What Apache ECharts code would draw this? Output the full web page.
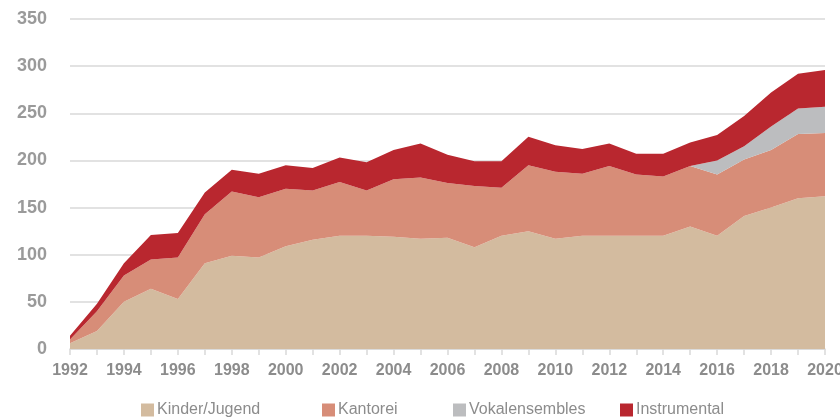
<!DOCTYPE html>
<html>
<head>
    <meta charset="utf-8">
    <script src="https://cdn.jsdelivr.net/npm/echarts@6/dist/echarts.min.js"></script>
    <style>
        html, body { margin: 0; padding: 0; background: #fff; }
        #chart { width: 840px; height: 419px; }
    </style>
</head>
<body>
<div id="chart"></div>
<script>
    var years = [];
    for (var y = 1992; y <= 2020; y++) { years.push(String(y)); }

    var kinderJugend = [6, 19, 50, 64, 53, 91, 99, 97, 109, 116, 120, 120, 119, 117, 118, 108, 120, 125, 117, 120, 120, 120, 120, 130, 120, 141, 150, 160, 162];
    var kantorei = [4, 21, 28, 31, 44, 52, 68, 64, 61, 52, 57, 48, 61, 65, 58, 65, 51, 70, 71, 66, 74, 65, 63, 64, 65, 60, 61, 68, 67];
    var vokalensembles = [0, 0, 0, 0, 0, 0, 0, 0, 0, 0, 0, 0, 0, 0, 0, 0, 0, 0, 0, 0, 0, 0, 0, 0, 15, 14, 25, 27, 28];
    var instrumental = [4, 8, 13, 26, 26, 23, 23, 25, 25, 24, 26, 30, 31, 36, 30, 26, 28, 30, 28, 26, 24, 22, 24, 25, 27, 32, 36, 37, 39];

    var names = ['Kinder/Jugend', 'Kantorei', 'Vokalensembles', 'Instrumental'];
    var colors = ['#d3bb9f', '#d78d78', '#bcbdbf', '#b9272f'];
    var seriesData = [kinderJugend, kantorei, vokalensembles, instrumental];
    var legendLeft = [136, 317, 448, 615];

    var font = '"Liberation Sans Narrow", "Liberation Sans", sans-serif';

    var myChart = echarts.init(document.getElementById('chart'));

    var series = [];
    var legends = [];
    for (var i = 0; i < names.length; i++) {
        series.push({
            name: names[i],
            type: 'line',
            stack: 'total',
            data: seriesData[i],
            symbol: 'none',
            lineStyle: { width: 0 },
            areaStyle: { color: colors[i], opacity: 1 },
            itemStyle: { color: colors[i] },
            emphasis: { disabled: true }
        });
        // one legend per item so the uneven spacing can be matched
        legends.push({
            data: [names[i]],
            left: legendLeft[i],
            top: 397,
            itemWidth: 13,
            itemHeight: 13,
            icon: 'rect',
            itemGap: 0,
            textStyle: { color: '#8c8c8c', fontSize: 16, fontFamily: font, padding: [0, 0, 0, -2] }
        });
    }

    var option = {
        animation: false,
        grid: { left: 70, right: 15, top: 19, bottom: 70, containLabel: false, outerBoundsMode: 'none' },
        legend: legends,
        xAxis: {
            type: 'category',
            boundaryGap: false,
            data: years,
            axisLine: { lineStyle: { color: '#d9d9d9', width: 1.5 } },
            axisTick: { show: true, interval: 0, length: 6, lineStyle: { color: '#d9d9d9', width: 1.5 } },
            axisLabel: { interval: 1, margin: 14, color: '#8c8c8c', fontSize: 16, fontWeight: 'bold', fontFamily: font, hideOverlap: false }
        },
        yAxis: {
            type: 'value',
            min: 0,
            max: 350,
            interval: 50,
            axisLine: { show: false },
            axisTick: { show: false },
            splitLine: { lineStyle: { color: '#d9d9d9', width: 1.5 } },
            axisLabel: { margin: 23, color: '#9a9a9a', fontSize: 18, fontWeight: 'bold', fontFamily: '"Liberation Sans", sans-serif' }
        },
        series: series
    };

    myChart.setOption(option);
</script>
</body>
</html>
